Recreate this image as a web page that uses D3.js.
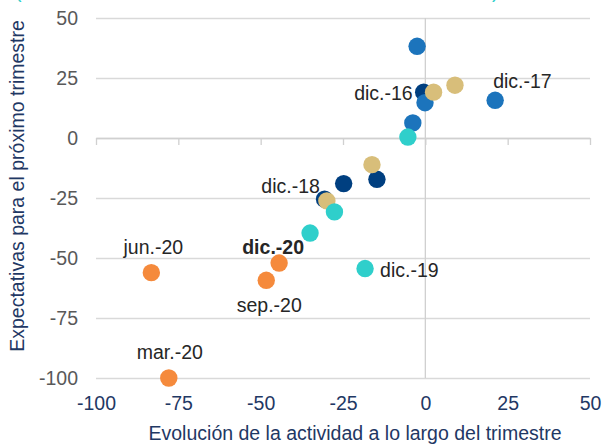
<!DOCTYPE html>
<html>
<head>
<meta charset="utf-8">
<script src="https://cdn.jsdelivr.net/npm/d3@7/dist/d3.min.js"></script>
<style>
  html, body { margin: 0; padding: 0; background: #fff; }
  svg { display: block; font-family: "Liberation Sans", Arial, sans-serif; }
</style>
</head>
<body>
<svg id="chart" width="604" height="444"></svg>
<script>
// Quarterly survey balances: activity during the quarter (x) vs. expectations for next quarter (y)
const years = ["2016", "2017", "2018", "2019", "2020"];
const quarters = ["mar.", "jun.", "sep.", "dic."];
const activity2016 = [-24.8, -14.7, -30.6, -0.5];
const expect2016   = [-19.0, -17.2, -25.5, 19.1];
const activity2017 = [-3.8, -2.5, -0.1, 21.2];
const expect2017   = [6.3, 38.2, 14.7, 15.7];
const activity2018 = [9.0, 2.5, -16.2, -29.9];
const expect2018   = [22.0, 19.1, -11.1, -26.2];
const activity2019 = [-5.3, -27.6, -35.0, -18.3];
const expect2019   = [0.4, -30.8, -39.6, -54.4];
const activity2020 = [-77.9, -83.2, -48.3, -44.4];
const expect2020   = [-100, -56.1, -59.3, -52.1];
const yearColors = ["#003f80", "#1c74bc", "#d8be7a", "#2fcfcb", "#f58a3c"];
const xTicks = [-100, -75, -50, -25, 0, 25, 50];
const yTicks = [50, 25, 0, -25, -50, -75, -100];
const labelled = [
  { year: "2016", q: 3, text: "dic.-16", anchor: "end", dx: -11, dy: 8, bold: false },
  { year: "2017", q: 3, text: "dic.-17", anchor: "start", dx: -2, dy: -12, bold: false },
  { year: "2018", q: 3, text: "dic.-18", anchor: "end", dx: -7, dy: -8, bold: false },
  { year: "2019", q: 3, text: "dic.-19", anchor: "start", dx: 15, dy: 8, bold: false },
  { year: "2020", q: 3, text: "dic.-20", anchor: "middle", dx: -6, dy: -9, bold: true },
  { year: "2020", q: 1, text: "jun.-20", anchor: "middle", dx: 2, dy: -19, bold: false },
  { year: "2020", q: 2, text: "sep.-20", anchor: "middle", dx: 3, dy: 32, bold: false },
  { year: "2020", q: 0, text: "mar.-20", anchor: "middle", dx: 1, dy: -19, bold: false }
];

const activity = [activity2016, activity2017, activity2018, activity2019, activity2020];
const expectations = [expect2016, expect2017, expect2018, expect2019, expect2020];
const points = [];
years.forEach((yr, i) => {
  quarters.forEach((q, j) => {
    points.push({ year: yr, q: j, x: activity[i][j], y: expectations[i][j], color: yearColors[i] });
  });
});

const W = 604, H = 444;
const FS = 19.5;
const margin = { top: 18, right: 14, bottom: 66, left: 96 };
const svg = d3.select("#chart");

const x = d3.scaleLinear().domain([-100, 50]).range([margin.left, W - margin.right]);
const y = d3.scaleLinear().domain([-100, 50]).range([H - margin.bottom, margin.top]);
const fmt = d => String(d);

// subtitle line running off the top edge
svg.append("text").attr("x", 15).attr("y", -2).attr("fill", "#2fcfcb")
  .attr("font-size", FS).text("(");
svg.append("text").attr("x", 492).attr("y", -2).attr("fill", "#2fcfcb")
  .attr("font-size", FS).text(")");

// horizontal gridlines
const grid = svg.append("g").attr("transform", `translate(${x(-100)},0)`)
  .call(d3.axisLeft(y).tickValues(yTicks).tickSize(-(x(50) - x(-100))).tickFormat(""));
grid.select(".domain").remove();
grid.selectAll(".tick line").attr("stroke", "#d9d9d9").attr("stroke-width", 1.3);

// y tick labels
const yLab = svg.append("g").attr("transform", `translate(${x(-100) - 18},0)`)
  .call(d3.axisLeft(y).tickValues(yTicks).tickSize(0).tickFormat(fmt));
yLab.select(".domain").remove();
yLab.selectAll("text").attr("fill", "#595959").attr("font-size", FS)
  .attr("font-family", "Liberation Sans, Arial, sans-serif").attr("x", 0);

// x axis crossing at y = 0, tick marks only
const xAxis = svg.append("g").attr("transform", `translate(0,${y(0)})`)
  .call(d3.axisBottom(x).tickValues(xTicks).tickSize(7).tickSizeOuter(0).tickFormat(""));
xAxis.select(".domain").attr("stroke", "#d0d0d0").attr("stroke-width", 1.3);
xAxis.selectAll(".tick line").attr("stroke", "#d0d0d0").attr("stroke-width", 1.3);

// x tick labels along the bottom
const xLab = svg.append("g").attr("transform", `translate(0,${y(-100) + 18})`)
  .call(d3.axisBottom(x).tickValues(xTicks).tickSize(0).tickFormat(fmt));
xLab.select(".domain").remove();
xLab.selectAll("text").attr("fill", "#1f3864").attr("font-size", FS)
  .attr("font-family", "Liberation Sans, Arial, sans-serif").attr("dy", "0.71em").attr("y", 0);

// vertical axis line at x = 0
svg.append("line")
  .attr("x1", x(0)).attr("x2", x(0))
  .attr("y1", y(50)).attr("y2", y(-100))
  .attr("stroke", "#d0d0d0").attr("stroke-width", 1.3);

// points, one colour per year
svg.append("g").selectAll("circle").data(points).join("circle")
  .attr("cx", d => x(d.x)).attr("cy", d => y(d.y)).attr("r", 8.7)
  .attr("fill", d => d.color);

// point labels
svg.append("g").selectAll("text").data(labelled).join("text")
  .each(function (d) {
    const p = points.find(pt => pt.year === d.year && pt.q === d.q);
    d3.select(this).attr("x", x(p.x) + d.dx).attr("y", y(p.y) + d.dy);
  })
  .attr("text-anchor", d => d.anchor)
  .attr("font-size", FS)
  .attr("font-weight", d => d.bold ? "bold" : "normal")
  .attr("fill", "#262626")
  .text(d => d.text);

// axis titles
svg.append("text")
  .attr("x", 355).attr("y", 440).attr("text-anchor", "middle")
  .attr("font-size", FS).attr("fill", "#1f3864")
  .text("Evolución de la actividad a lo largo del trimestre");
svg.append("text")
  .attr("transform", "translate(24,186) rotate(-90)")
  .attr("text-anchor", "middle")
  .attr("font-size", FS).attr("fill", "#1f3864")
  .text("Expectativas  para el próximo trimestre");
</script>
</body>
</html>
